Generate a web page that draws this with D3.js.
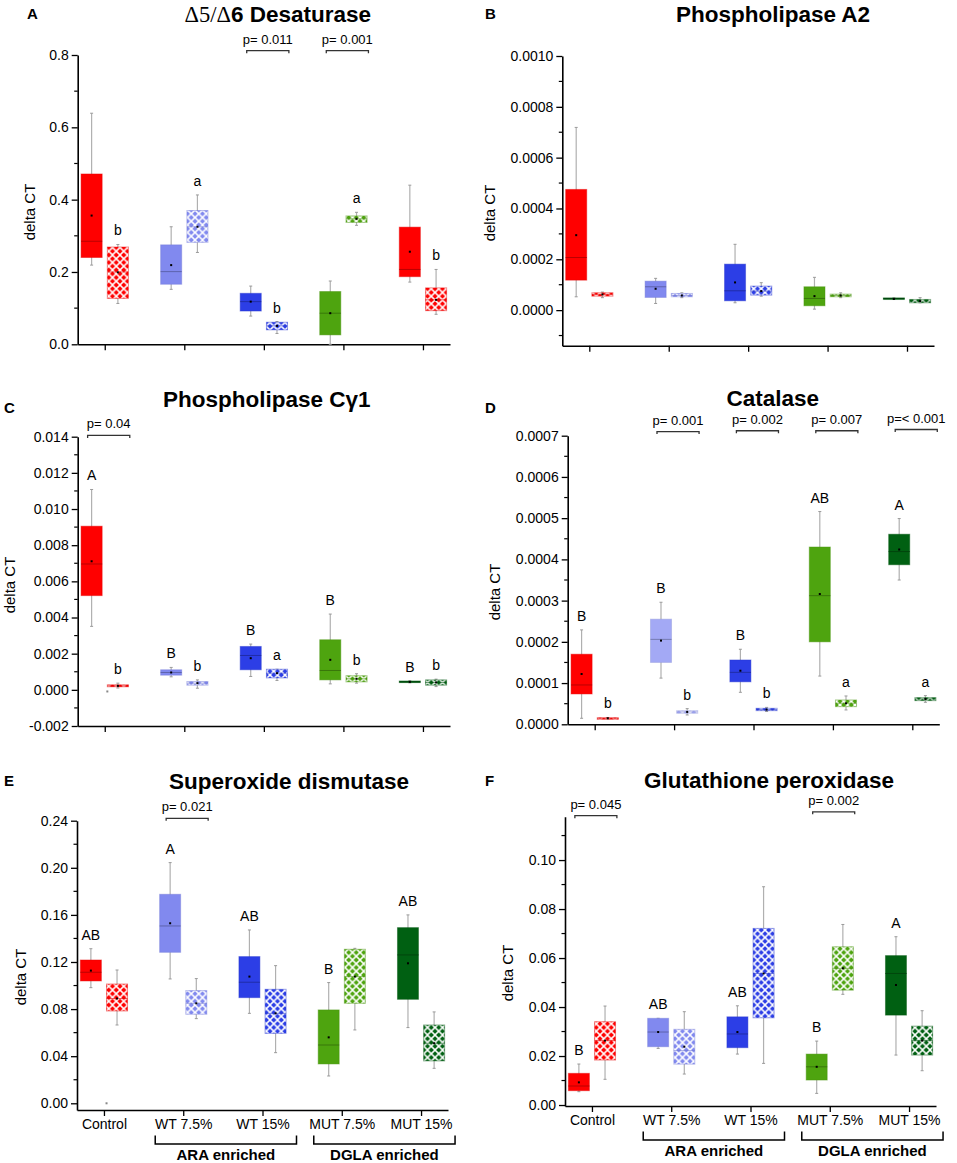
<!DOCTYPE html>
<html>
<head>
<meta charset="utf-8">
<script src="https://cdn.jsdelivr.net/npm/d3@7"></script>
<style>
  body { margin: 0; background: #fff; }
  text { font-family: "Liberation Sans", Arial, sans-serif; }
</style>
</head>
<body>
<svg id="fig" width="957" height="1163"></svg>
<script>
// groups on the x axis
const groups = ["Control", "WT 7.5%", "WT 15%", "MUT 7.5%", "MUT 15%"];
const enrichLabels = ["ARA enriched", "DGLA enriched"];
const enrichSpans = [[2, 3], [4, 5]];

const baseColors = ["#ff0000", "#8189ef", "#2c3ee6", "#4ea40f", "#006012"];
const desatColors = ["#ff0000", "#8189ef", "#2c3ee6", "#4ea40f", "#ff0000"];
const catalaseColors = ["#ff0000", "#a3a9f5", "#2c3ee6", "#4ea40f", "#006012"];

// box stats per group: [low whisker, Q1, median, Q3, high whisker, mean]
// A  delta5/delta6 desaturase
const desatSolid = [
  [0.219, 0.240, 0.285, 0.471, 0.639, 0.356],
  [0.152, 0.166, 0.201, 0.275, 0.325, 0.219],
  [0.078, 0.092, 0.118, 0.141, 0.161, 0.118],
  [0.000, 0.026, 0.086, 0.146, 0.175, 0.086],
  [0.172, 0.187, 0.207, 0.324, 0.440, 0.256]
];
const desatHatch = [
  [0.113, 0.127, 0.200, 0.269, 0.276, 0.199],
  [0.254, 0.282, 0.325, 0.370, 0.413, 0.325],
  [0.030, 0.040, 0.051, 0.061, 0.063, 0.051],
  [0.329, 0.337, 0.347, 0.355, 0.365, 0.347],
  [0.083, 0.093, 0.123, 0.156, 0.207, 0.123]
];
const desatUpper = ["", "", "", "", ""];
const desatLower = ["b", "a", "b", "a", "b"];
const desatP = [{ group: 3, text: "p= 0.011", at: 0.812 }, { group: 4, text: "p= 0.001", at: 0.812 }];

// B  phospholipase A2
const pla2Solid = [
  [0.525e-4, 1.18e-4, 2.07e-4, 4.75e-4, 7.19e-4, 2.95e-4],
  [0.262e-4, 0.499e-4, 0.919e-4, 1.14e-4, 1.25e-4, 0.84e-4],
  [0.289e-4, 0.367e-4, 0.761e-4, 1.81e-4, 2.59e-4, 1.09e-4],
  [0.039e-4, 0.171e-4, 0.459e-4, 0.919e-4, 1.29e-4, 0.551e-4],
  [0.42e-4, 0.43e-4, 0.46e-4, 0.48e-4, 0.48e-4, 0.44e-4]
];
const pla2Hatch = [
  [0.49e-4, 0.551e-4, 0.617e-4, 0.682e-4, 0.71e-4, 0.617e-4],
  [0.49e-4, 0.525e-4, 0.577e-4, 0.656e-4, 0.68e-4, 0.577e-4],
  [0.55e-4, 0.591e-4, 0.748e-4, 0.945e-4, 1.08e-4, 0.748e-4],
  [0.49e-4, 0.525e-4, 0.577e-4, 0.63e-4, 0.68e-4, 0.577e-4],
  [0.289e-4, 0.289e-4, 0.354e-4, 0.42e-4, 0.49e-4, 0.354e-4]
];
const pla2Upper = ["", "", "", "", ""];
const pla2Lower = ["", "", "", "", ""];
const pla2P = [];

// C  phospholipase C gamma 1
const plcSolid = [
  [0.00351, 0.00521, 0.00696, 0.00905, 0.01108, 0.00711],
  [0.00072, 0.00081, 0.00096, 0.00111, 0.00124, 0.00096],
  [0.00074, 0.00111, 0.00190, 0.00240, 0.00253, 0.00175],
  [0.00033, 0.00055, 0.00107, 0.00277, 0.00419, 0.00166],
  [0.00039, 0.00040, 0.00044, 0.00049, 0.00050, 0.00044]
];
const plcHatch = [
  [0.00010, 0.00017, 0.00022, 0.00028, 0.00037, 0.00022],
  [0.00009, 0.00026, 0.00037, 0.00046, 0.00055, 0.00037],
  [0.00052, 0.00066, 0.00092, 0.00114, 0.00114, 0.00092],
  [0.00037, 0.00044, 0.00061, 0.00078, 0.00089, 0.00061],
  [0.00018, 0.00026, 0.00041, 0.00055, 0.00059, 0.00041]
];
const plcUpper = ["A", "B", "B", "B", "B"];
const plcLower = ["b", "b", "a", "b", "b"];
const plcP = [{ group: 1, text: "p= 0.04", at: 0.01407 }];
const plcOutliers = [-0.00009, null, null, null, null];

// D  catalase
const catSolid = [
  [0.0000146, 0.0000736, 0.0000954, 0.000170, 0.000229, 0.000122],
  [0.000112, 0.000150, 0.000206, 0.000255, 0.000296, 0.000203],
  [0.0000776, 0.000103, 0.000126, 0.000156, 0.000182, 0.000130],
  [0.000117, 0.000200, 0.000312, 0.000430, 0.000516, 0.000316],
  [0.000350, 0.000387, 0.000419, 0.000461, 0.000499, 0.000424]
];
const catHatch = [
  [0.0000130, 0.0000135, 0.0000146, 0.0000160, 0.0000165, 0.0000146],
  [0.0000226, 0.0000267, 0.0000300, 0.0000331, 0.0000380, 0.0000300],
  [0.0000310, 0.0000331, 0.0000356, 0.0000388, 0.0000410, 0.0000356],
  [0.0000348, 0.0000428, 0.0000510, 0.0000590, 0.0000687, 0.0000510],
  [0.0000534, 0.0000574, 0.0000614, 0.0000647, 0.0000695, 0.0000614]
];
const catUpper = ["B", "B", "B", "AB", "A"];
const catLower = ["b", "b", "b", "a", "a"];
const catP = [
  { group: 2, text: "p= 0.001", at: 0.000710 },
  { group: 3, text: "p= 0.002", at: 0.000712 },
  { group: 4, text: "p= 0.007", at: 0.000712 },
  { group: 5, text: "p=< 0.001", at: 0.000715 }
];

// E  superoxide dismutase
const sodSolid = [
  [0.0982, 0.1039, 0.1113, 0.1217, 0.1313, 0.1127],
  [0.1056, 0.1282, 0.1506, 0.1775, 0.2044, 0.1529],
  [0.0764, 0.0897, 0.1028, 0.1246, 0.1472, 0.1076],
  [0.0232, 0.0334, 0.0495, 0.0793, 0.1025, 0.0560],
  [0.0643, 0.0883, 0.1260, 0.1492, 0.1600, 0.1189]
];
const sodHatch = [
  [0.0665, 0.0784, 0.0890, 0.1013, 0.1132, 0.0890],
  [0.0719, 0.0756, 0.0849, 0.0957, 0.1059, 0.0849],
  [0.0430, 0.0594, 0.0764, 0.0968, 0.1169, 0.0764],
  [0.0623, 0.0849, 0.1076, 0.1308, 0.1316, 0.1076],
  [0.0297, 0.0360, 0.0510, 0.0665, 0.0776, 0.0510]
];
const sodUpper = ["AB", "A", "AB", "B", "AB"];
const sodLower = ["", "", "", "", ""];
const sodP = [{ group: 2, text: "p= 0.021", at: 0.2420 }];
const sodOutliers = [0.0, null, null, null, null];

// F  glutathione peroxidase
const gpxSolid = [
  [0.00544, 0.00585, 0.00776, 0.01293, 0.01673, 0.00925],
  [0.0231, 0.0238, 0.0298, 0.0354, 0.0354, 0.0298],
  [0.0208, 0.0234, 0.0290, 0.0360, 0.0405, 0.0298],
  [0.00476, 0.0102, 0.0156, 0.0208, 0.0261, 0.0156],
  [0.0204, 0.0367, 0.0537, 0.0610, 0.0687, 0.0490]
];
const gpxHatch = [
  [0.0105, 0.01837, 0.0263, 0.0340, 0.0404, 0.0263],
  [0.01265, 0.0167, 0.0222, 0.0309, 0.0381, 0.0238],
  [0.0170, 0.0356, 0.0537, 0.0721, 0.0891, 0.0537],
  [0.0452, 0.0469, 0.0558, 0.0646, 0.0737, 0.0558],
  [0.0140, 0.0204, 0.0263, 0.0322, 0.0385, 0.0263]
];
const gpxUpper = ["B", "AB", "AB", "B", "A"];
const gpxLower = ["", "", "", "", ""];
const gpxP = [{ group: 1, text: "p= 0.045", at: 0.1181 }, { group: 4, text: "p= 0.002", at: 0.1197 }];

// panel layout
const panels = [
  { tag: "A", title: [["\u03945/\u0394", "serif"], ["6 Desaturase", "bold"]], left: 77.7, right: 450, top: 55, bottom: 344.3,
    ymin: 0, ymax: 0.8, step: 0.2, fmt: ".1f", solid: desatSolid, hatch: desatHatch, colors: desatColors,
    upper: desatUpper, lower: desatLower, pvals: desatP, cats: false,
    titleX: 277.7, titleY: 21.7, tagX: 27, tagY: 19.3, labX: 30, labY: 212 },
  { tag: "B", title: [["Phospholipase A2", "bold"]], left: 562.3, right: 934, top: 56, bottom: 345.7,
    ymin: -0.00014, ymax: 0.001, step: 0.0002, fmt: ".4f", solid: pla2Solid, hatch: pla2Hatch, colors: baseColors,
    upper: pla2Upper, lower: pla2Lower, pvals: pla2P, cats: false,
    titleX: 773, titleY: 21.7, tagX: 485, tagY: 19.3, labX: 490, labY: 213 },
  { tag: "C", title: [["Phospholipase C\u03b31", "bold"]], left: 77.7, right: 450, top: 436.7, bottom: 726,
    ymin: -0.002, ymax: 0.014, step: 0.002, fmt: ".3f", solid: plcSolid, hatch: plcHatch, colors: baseColors,
    upper: plcUpper, lower: plcLower, pvals: plcP, outliers: plcOutliers, cats: false,
    titleX: 266.7, titleY: 406.7, tagX: 4, tagY: 412.7, labX: 10, labY: 585 },
  { tag: "D", title: [["Catalase", "bold"]], left: 567.7, right: 939.3, top: 435.7, bottom: 724.3,
    ymin: 0, ymax: 0.0007, step: 0.0001, fmt: ".4f", solid: catSolid, hatch: catHatch, colors: catalaseColors,
    upper: catUpper, lower: catLower, pvals: catP, cats: false,
    titleX: 772.7, titleY: 406, tagX: 485, tagY: 412.7, labX: 495, labY: 592 },
  { tag: "E", title: [["Superoxide dismutase", "bold"]], left: 77, right: 448, top: 820.7, bottom: 1110,
    ymin: -0.0057, ymax: 0.24, step: 0.04, fmt: ".2f", solid: sodSolid, hatch: sodHatch, colors: baseColors,
    upper: sodUpper, lower: sodLower, pvals: sodP, outliers: sodOutliers, cats: true,
    titleX: 289, titleY: 789, tagX: 4, tagY: 786, labX: 21, labY: 977 },
  { tag: "F", title: [["Glutathione peroxidase", "bold"]], left: 565, right: 936, top: 816.7, bottom: 1106,
    ymin: -0.0004, ymax: 0.1177, step: 0.02, fmt: ".2f", solid: gpxSolid, hatch: gpxHatch, colors: baseColors,
    upper: gpxUpper, lower: gpxLower, pvals: gpxP, cats: true,
    titleX: 769, titleY: 788, tagX: 485, tagY: 786, labX: 508, labY: 973 }
];

const svg = d3.select("#fig");
const defs = svg.append("defs");
const hatchIds = new Map();

function hatchFill(color) {
  if (!hatchIds.has(color)) {
    const id = "hatch" + hatchIds.size;
    const pat = defs.append("pattern").attr("id", id)
      .attr("patternUnits", "userSpaceOnUse").attr("width", 7.5).attr("height", 7.5);
    pat.append("rect").attr("width", 7.5).attr("height", 7.5).attr("fill", color);
    pat.append("path").attr("d", "M0,0L7.5,7.5M7.5,0L0,7.5")
      .attr("stroke", "#fff").attr("stroke-width", 1.5);
    hatchIds.set(color, id);
  }
  return "url(#" + hatchIds.get(color) + ")";
}

function styleAxis(sel) {
  sel.attr("font-size", 14).attr("font-family", "Liberation Sans, Arial, sans-serif");
  sel.select(".domain").attr("stroke", "#000").attr("stroke-width", 1.6);
  sel.selectAll(".tick line").attr("stroke", "#000").attr("stroke-width", 1.3);
  sel.selectAll(".tick text").attr("fill", "#000");
}

function drawPanel(p) {
  const g = svg.append("g");
  const x = d3.scaleLinear().domain([0.66, 5.34]).range([p.left, p.right]);
  const y = d3.scaleLinear().domain([p.ymin, p.ymax]).range([p.bottom, p.top]);
  const unit = x(2) - x(1);
  const off = 0.165 * unit, bw = 0.265 * unit;
  const half = p.step / 2;
  const major = d3.range(Math.ceil(p.ymin / p.step - 1e-6), Math.floor(p.ymax / p.step + 1e-6) + 1)
    .map(k => k * p.step);
  const minor = d3.range(Math.ceil(p.ymin / half - 1e-6), Math.floor(p.ymax / half + 1e-6) + 1)
    .filter(k => k % 2 !== 0).map(k => k * half);
  const fmt = d => d3.format(p.fmt)(d).replace("\u2212", "-");

  // y axis
  g.append("g").attr("transform", "translate(" + p.left + ",0)")
    .call(d3.axisLeft(y).tickValues(major).tickFormat(fmt).tickSize(6).tickPadding(3).tickSizeOuter(0))
    .call(styleAxis);
  g.append("g").selectAll("line").data(minor).join("line")
    .attr("x1", p.left - 3.5).attr("x2", p.left)
    .attr("y1", d => y(d)).attr("y2", d => y(d))
    .attr("stroke", "#000").attr("stroke-width", 1.2);

  // x axis
  g.append("g").attr("transform", "translate(0," + p.bottom + ")")
    .call(d3.axisBottom(x).tickValues([1, 2, 3, 4, 5]).tickSize(6).tickSizeOuter(0)
      .tickFormat((d, i) => p.cats ? groups[i] : ""))
    .call(styleAxis);

  // boxes
  [["solid", p.solid, -off, p.upper], ["hatch", p.hatch, off, p.lower]].forEach(([kind, stats, dx, letters]) => {
    stats.forEach((s, i) => {
      const cx = x(i + 1) + dx;
      const color = p.colors[i];
      const bg = g.append("g");
      bg.append("line").attr("x1", cx).attr("x2", cx).attr("y1", y(s[0])).attr("y2", y(s[4]))
        .attr("stroke", "#b0b0b0").attr("stroke-width", 1.2);
      [s[0], s[4]].forEach(v => bg.append("line")
        .attr("x1", cx - 1.5).attr("x2", cx + 1.5).attr("y1", y(v)).attr("y2", y(v))
        .attr("stroke", "#9a9a9a").attr("stroke-width", 1));
      const top = y(s[3]);
      const h = Math.max(1.6, y(s[1]) - y(s[3]));
      bg.append("rect").attr("x", cx - bw / 2).attr("y", top).attr("width", bw).attr("height", h)
        .attr("fill", kind === "hatch" ? hatchFill(color) : color)
        .attr("stroke", d3.color(color).darker(0.3)).attr("stroke-opacity", 0.45).attr("stroke-width", 1);
      bg.append("line").attr("x1", cx - bw / 2).attr("x2", cx + bw / 2).attr("y1", y(s[2])).attr("y2", y(s[2]))
        .attr("stroke", d3.color(color).darker(kind === "hatch" ? 0.4 : 0.9))
        .attr("stroke-opacity", kind === "hatch" ? 0.6 : 1).attr("stroke-width", 1);
      bg.append("rect").attr("x", cx - 1).attr("y", y(s[5]) - 1).attr("width", 2).attr("height", 2)
        .attr("fill", "#000");
      if (letters[i]) {
        g.append("text").attr("x", cx).attr("y", y(s[4]) - 9)
          .attr("text-anchor", "middle").attr("font-size", 14).text(letters[i]);
      }
      if (kind === "hatch" && p.outliers && p.outliers[i] !== null) {
        g.append("rect").attr("x", cx - bw / 2 - 1).attr("y", y(p.outliers[i]) - 1)
          .attr("width", 2).attr("height", 2).attr("fill", "#888");
      }
    });
  });

  // p-value brackets
  p.pvals.forEach(pv => {
    const l = x(pv.group) - off - 4, r = l + 0.53 * unit, yy = y(pv.at);
    g.append("path").attr("d", "M" + l + "," + (yy + 2.5) + "V" + yy + "H" + r + "V" + (yy + 2.5))
      .attr("fill", "none").attr("stroke", "#333").attr("stroke-width", 1.3);
    g.append("text").attr("x", (l + r) / 2).attr("y", yy - 7)
      .attr("text-anchor", "middle").attr("font-size", 13).text(pv.text);
  });

  // enrichment brackets under the category labels
  if (p.cats) {
    enrichSpans.forEach((sp, k) => {
      const l = x(sp[0]) - 28, r = x(sp[1]) + 34, yy = p.bottom + 34;
      g.append("path").attr("d", "M" + l + "," + (yy - 8.5) + "V" + yy + "H" + r + "V" + (yy - 8.5))
        .attr("fill", "none").attr("stroke", "#000").attr("stroke-width", 1.5);
      g.append("text").attr("x", (l + r) / 2).attr("y", yy + 16)
        .attr("text-anchor", "middle").attr("font-size", 15).attr("font-weight", "bold")
        .text(enrichLabels[k]);
    });
  }

  // titles and labels
  const t = g.append("text").attr("x", p.titleX).attr("y", p.titleY).attr("text-anchor", "middle")
    .attr("font-size", 22.5);
  p.title.forEach(([str, style]) => {
    const ts = t.append("tspan").text(str);
    if (style === "bold") ts.attr("font-weight", "bold");
    else ts.attr("font-family", "Liberation Serif, Times New Roman, serif");
  });
  g.append("text").attr("x", p.tagX).attr("y", p.tagY)
    .attr("font-size", 15).attr("font-weight", "bold").text(p.tag);
  g.append("text").attr("transform", "translate(" + p.labX + "," + p.labY + ") rotate(-90)")
    .attr("text-anchor", "middle").attr("dy", "0.35em").attr("font-size", 15).text("delta CT");
}

panels.forEach(drawPanel);
</script>
</body>
</html>
